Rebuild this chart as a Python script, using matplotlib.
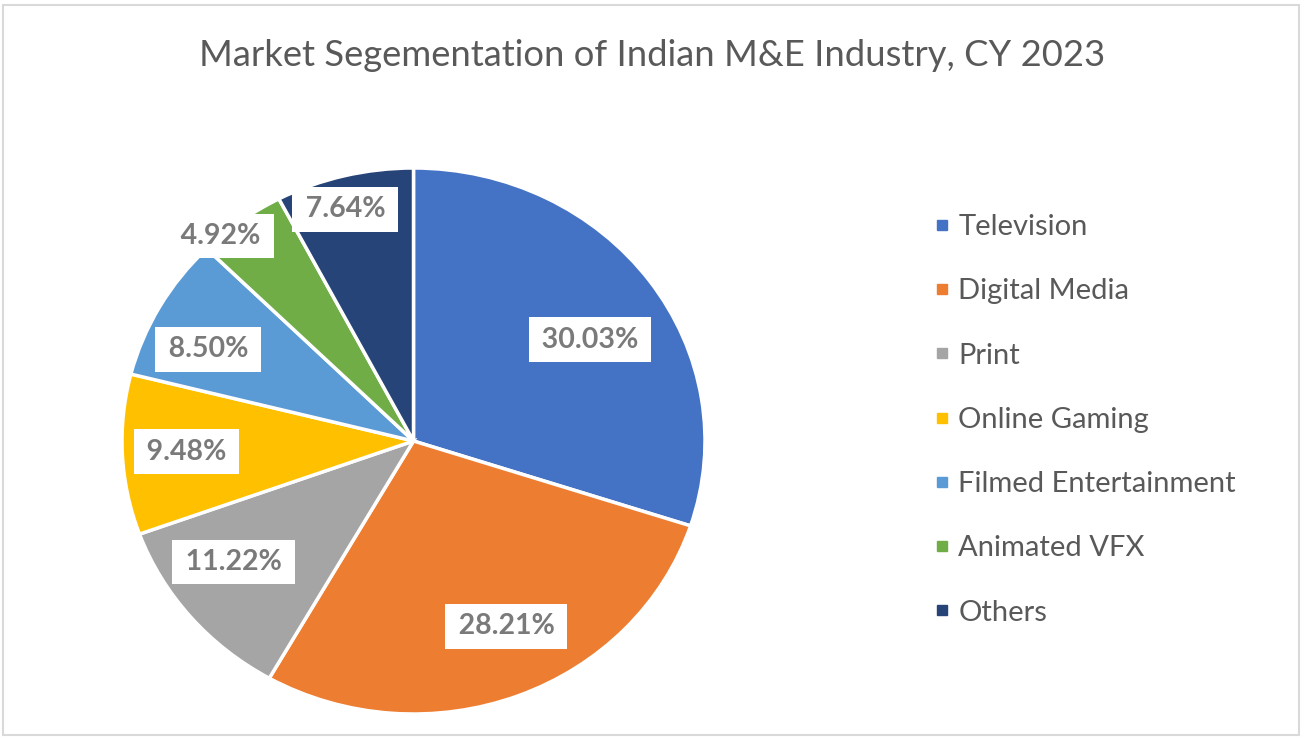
import matplotlib.pyplot as plt
from matplotlib.lines import Line2D
from matplotlib.patches import Rectangle
import numpy as np

# datos del gráfico
segmentos = ["Television", "Digital Media", "Print", "Online Gaming",
             "Filmed Entertainment", "Animated VFX", "Others"]
porcentajes = [30.03, 28.21, 11.22, 9.48, 8.50, 4.92, 7.64]
colores = ["#4472C4", "#ED7D31", "#A5A5A5", "#FFC000", "#5B9BD5", "#70AD47", "#264478"]

# posición de cada etiqueta: distancia radial y giro en grados (estilo, no datos)
radio_etiqueta = [0.71, 0.75, 0.76, 0.78, 0.78, 1.0, 0.88]
giro_etiqueta = [-4.5, 4, -4.5, 0, 4, 5, 1.7]

plt.rcParams['font.family'] = ['Lato', 'DejaVu Sans']
gris = "#595959"

fig = plt.figure(figsize=(13.04, 7.38), dpi=100)
fig.patch.set_facecolor("white")

ax = fig.add_axes([122 / 1304, 24 / 738, 583 / 1304, 546 / 738])
cunas, _ = ax.pie(porcentajes, colors=colores, startangle=90, counterclock=False,
                  radius=1, wedgeprops=dict(edgecolor="white", linewidth=2.5))
ax.set_aspect('auto')
ax.set_xlim(-1, 1)
ax.set_ylim(-1, 1)
ax.axis('off')

for w, p, r, g in zip(cunas, porcentajes, radio_etiqueta, giro_etiqueta):
    ang = np.deg2rad((w.theta1 + w.theta2) / 2 + g)
    ax.text(r * np.cos(ang), r * np.sin(ang), f"\u2009{p:.2f}%\u2009", ha='center', va='center',
            fontsize=20.5, fontweight='bold', color="#7a7a7a",
            bbox=dict(boxstyle="square,pad=0.33", facecolor="white", edgecolor="none"))

fig.text(0.5, 1 - 55 / 738, "Market Segementation of Indian M&E Industry, CY 2023",
         ha='center', va='center', fontsize=26.2, color=gris)

marcas = [Line2D([], [], marker='s', linestyle='none', markersize=6.5, color=c) for c in colores]
fig.legend(marcas, segmentos, loc='upper left', bbox_to_anchor=(908 / 1304, 1 - 188 / 738),
           frameon=False, fontsize=21, labelcolor=gris, labelspacing=1.31,
           handletextpad=0.32, handlelength=0.5)

fig.patches.append(Rectangle((3 / 1304, 3 / 738), 1296 / 1304, 730 / 738, transform=fig.transFigure,
                             fill=False, edgecolor="#d9d9d9", linewidth=1.5))

fig.savefig("out.png", dpi=100, facecolor="white")
